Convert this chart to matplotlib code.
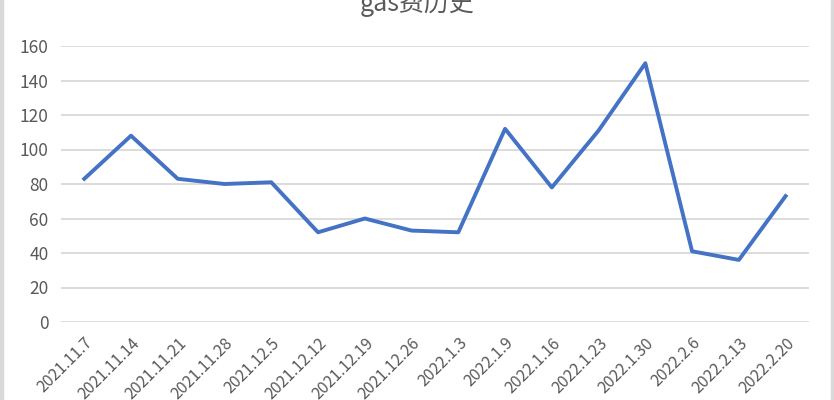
import matplotlib.pyplot as plt
from matplotlib.patches import Rectangle

plt.rcParams['font.family'] = ['Noto Sans CJK SC', 'DejaVu Sans']

dates = ['2021.11.7', '2021.11.14', '2021.11.21', '2021.11.28', '2021.12.5',
         '2021.12.12', '2021.12.19', '2021.12.26', '2022.1.3', '2022.1.9',
         '2022.1.16', '2022.1.23', '2022.1.30', '2022.2.6', '2022.2.13',
         '2022.2.20']
gas_fee = [83, 108, 83, 80, 81, 52, 60, 53, 52, 112, 78, 111, 150, 41, 36, 73]
y_ticks = [0, 20, 40, 60, 80, 100, 120, 140, 160]

text_color = '#595959'
grid_color = '#d9d9d9'

fig = plt.figure(figsize=(8.34, 4), dpi=100)
ax = fig.add_axes([0.073, 0.195, 0.897, 0.69])

x = range(len(dates))
ax.plot(x, gas_fee, color='#4472c4', lw=2.8, solid_joinstyle='round')

ax.set_xlim(-0.5, len(dates) - 0.5)
ax.set_ylim(0, 160)
ax.set_yticks(y_ticks)
ax.set_xticks(list(x))
ax.set_xticklabels(dates, rotation=45, ha='right', va='top',
                   rotation_mode='anchor')
ax.tick_params(axis='x', length=0, labelsize=11.5, colors=text_color, pad=9)
ax.tick_params(axis='y', length=0, labelsize=12.5, colors=text_color, pad=9)
ax.yaxis.grid(True, color=grid_color, lw=1.3)
ax.set_axisbelow(True)
for s in ax.spines.values():
    s.set_visible(False)

fig.text(0.5, 0.99, 'gas费历史', ha='center', va='center', fontsize=18,
         color=text_color)

# light frame at the edges of the picture
fig.patches.append(Rectangle((0, 0), 0.003, 1, transform=fig.transFigure,
                             color=grid_color))
fig.patches.append(Rectangle((0.9965, 0), 0.0035, 1, transform=fig.transFigure,
                             color=grid_color))

fig.savefig('out.png', dpi=100)
